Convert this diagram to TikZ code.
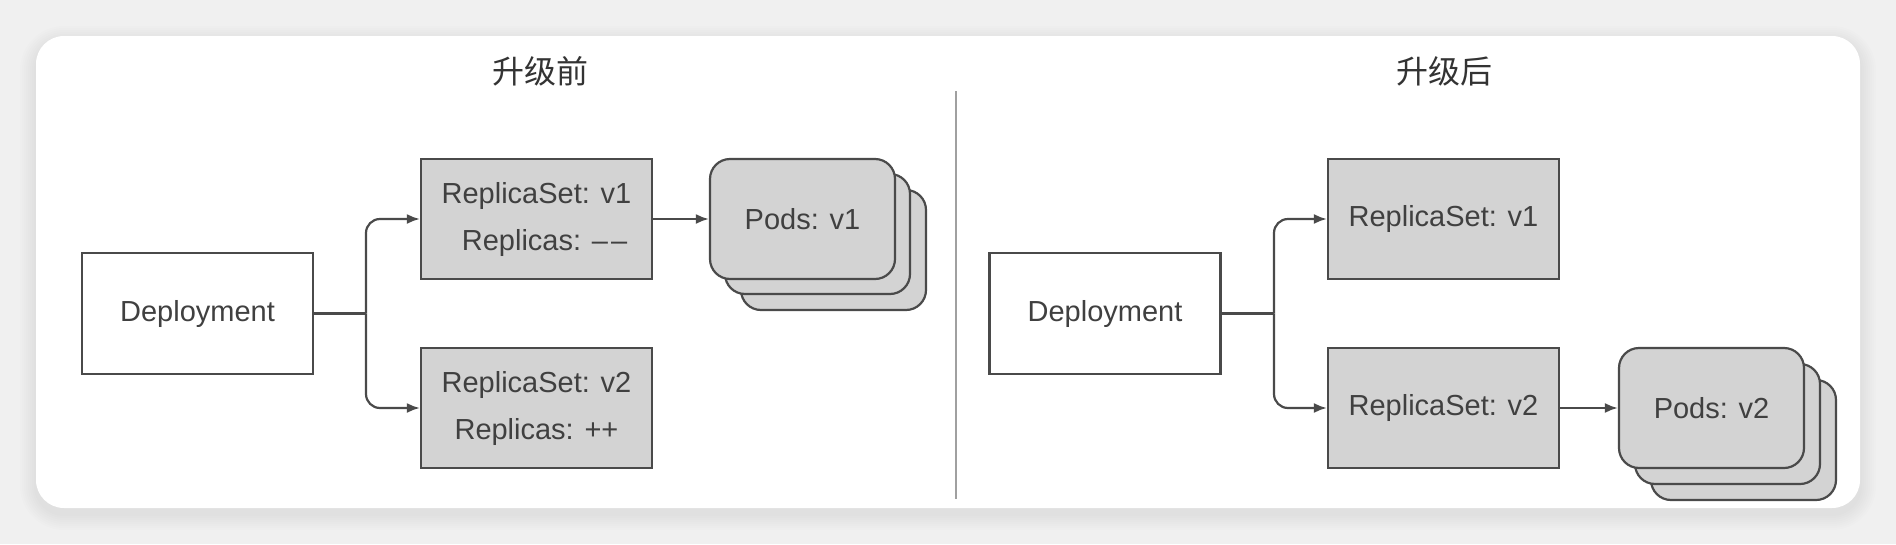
\documentclass[tikz,border=0pt]{standalone}
\usepackage{fontspec}
\setmainfont{Liberation Sans}
\newfontfamily\cjk{Noto Sans CJK SC}
\usetikzlibrary{arrows.meta}
\definecolor{bgout}{HTML}{F0F0F0}
\definecolor{boxfill}{HTML}{D3D3D3}
\definecolor{edge}{HTML}{4A4A4A}
\definecolor{txt}{HTML}{404040}
\definecolor{divc}{HTML}{A0A0A0}
\tikzset{
  box/.style={draw=edge, line width=2.2pt, minimum width=231pt, minimum height=120pt, inner sep=0pt, text=txt, align=center,
    font=\fontsize{29}{47}\selectfont},
  rsbox/.style={box, fill=boxfill},
  depbox/.style={box, fill=white, minimum height=121pt},
  podcard/.style={draw=edge, line width=2.2pt, fill=boxfill, rounded corners=20pt, minimum width=185pt, minimum height=120pt,
    inner sep=0pt, text=txt, font=\fontsize{29}{47}\selectfont},
  conn/.style={draw=edge, line width=2.2pt},
  arr/.style={conn, -{Latex[length=13pt,width=10pt]}, rounded corners=14pt},
  title/.style={text=black!80, font=\cjk\fontsize{32}{38}\selectfont}
}
\begin{document}
\begin{tikzpicture}[x=1pt,y=-1pt]
\useasboundingbox (0,0) rectangle (1896,544);
\fill[bgout] (0,0) rectangle (1896,544);
% soft card shadow
\foreach \s in {16,14,...,2}{
  \fill[black, opacity=0.008, rounded corners=28pt+\s] (36-\s,36-\s+6) rectangle (1860+\s,508+\s+6);
}
\fill[white, rounded corners=28pt] (36,36) rectangle (1860,508);

% titles
\node[title] (t1) at (540,71) {升级前};
\node[title] (t2) at (1444,71) {升级后};

% divider
\draw[divc, line width=2pt] (956,91) -- (956,499);

% ---------- left ----------
\node[depbox] (dep1) at (197.5,313.5) {Deployment};
\node[rsbox] (rs1a) at (536.5,219) {ReplicaSet: v1\\\ \ Replicas: \textendash\kern3pt\textendash};
\node[rsbox] (rs2a) at (536.5,408) {ReplicaSet: v2\\Replicas: ++};
\node[podcard] (p1c) at (833.5,250) {};
\node[podcard] (p1b) at (817.5,234) {};
\node[podcard] (p1a) at (802.5,219) {Pods: v1};
\coordinate (j1) at (366,313.5);
\draw[conn] (dep1.east) -- (j1);
\draw[arr] (j1) |- (rs1a.west);
\draw[arr] (j1) |- (rs2a.west);
\draw[arr] (rs1a.east) -- (p1a.west);

% ---------- right ----------
\node[depbox] (dep2) at (1105,313.5) {Deployment};
\node[rsbox] (rs1b) at (1443.5,219) {ReplicaSet: v1};
\node[rsbox] (rs2b) at (1443.5,408) {ReplicaSet: v2};
\node[podcard] (p2c) at (1743.5,440) {};
\node[podcard] (p2b) at (1727.5,424) {};
\node[podcard] (p2a) at (1711.5,408) {Pods: v2};
\coordinate (j2) at (1274,313.5);
\draw[conn] (dep2.east) -- (j2);
\draw[arr] (j2) |- (rs1b.west);
\draw[arr] (j2) |- (rs2b.west);
\draw[arr] (rs2b.east) -- (p2a.west);
\end{tikzpicture}
\end{document}
